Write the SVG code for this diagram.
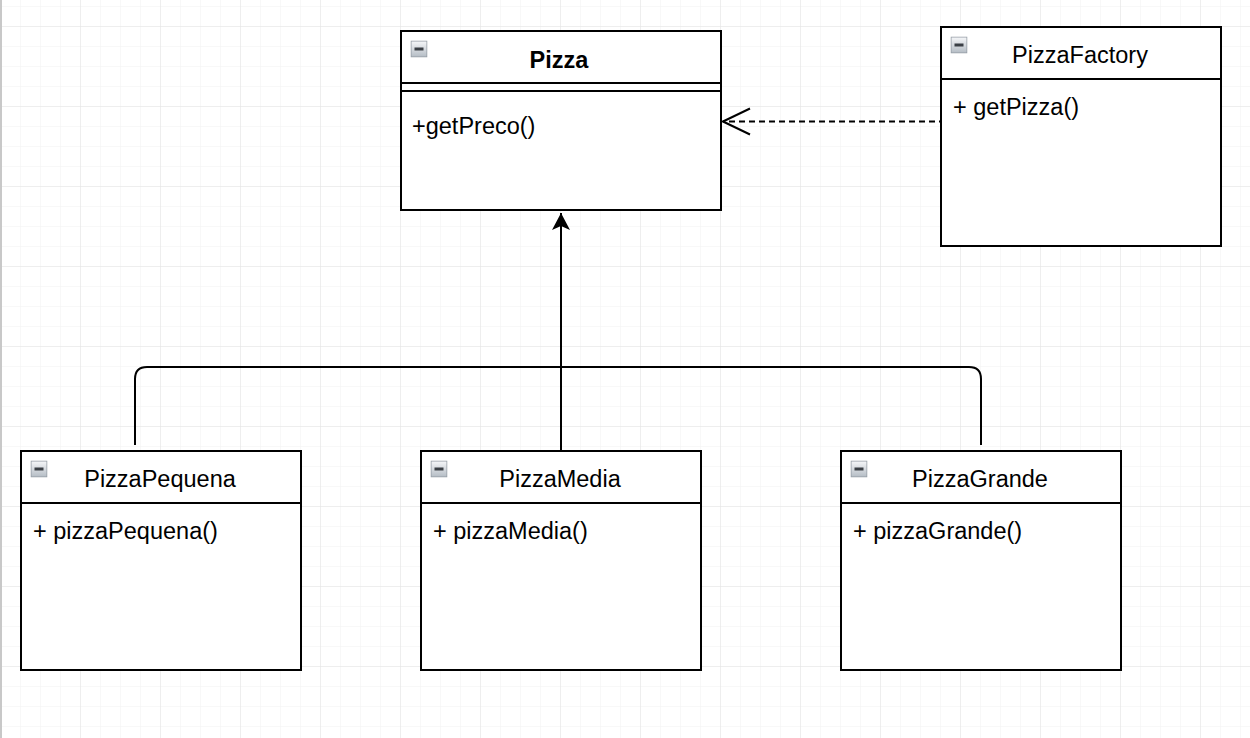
<svg xmlns="http://www.w3.org/2000/svg" width="1250" height="738" viewBox="0 0 1250 738">
  <defs>
    <pattern id="minor" width="20" height="20" patternUnits="userSpaceOnUse" x="0" y="6">
      <path d="M0 0H20M0 0V20" fill="none" stroke="#f1f1f1" stroke-width="1"/>
    </pattern>
    <pattern id="major" width="80" height="80" patternUnits="userSpaceOnUse" x="0" y="26">
      <path d="M0 0H80M0 0V80" fill="none" stroke="#e4e4e4" stroke-width="1"/>
    </pattern>
    <linearGradient id="icon" x1="0" y1="0" x2="0" y2="1">
      <stop offset="0" stop-color="#f6f7f9"/>
      <stop offset="1" stop-color="#b4bcc4"/>
    </linearGradient>
    <symbol id="minus" viewBox="0 0 17 17">
      <rect x="0.5" y="0.5" width="16" height="16" fill="url(#icon)" stroke="#949ca5" stroke-width="1"/>
      <rect x="4" y="7" width="9" height="3" fill="#3a3f45"/>
    </symbol>
    <marker id="filled" markerWidth="20" markerHeight="20" refX="17" refY="9" orient="auto" markerUnits="userSpaceOnUse">
      <path d="M0 0 L17 9 L0 18 L4 9 Z" fill="#000"/>
    </marker>
    <marker id="open" markerWidth="30" markerHeight="30" refX="28" refY="14" orient="auto" markerUnits="userSpaceOnUse">
      <path d="M1 1 L28 14 L1 27" fill="none" stroke="#000" stroke-width="2"/>
    </marker>
  </defs>
  <style>
    .box { fill: #fff; stroke: #000; stroke-width: 2; }
    .sep { stroke: #000; stroke-width: 2; fill: none; }
    .t { font-family: "Liberation Sans", Arial, sans-serif; font-size: 23.5px; fill: #000; }
    .title { text-anchor: middle; }
    .bold { font-weight: bold; }
    .edge { fill: none; stroke: #000; stroke-width: 2; }
  </style>
  <rect width="1250" height="738" fill="#fff"/>
  <rect width="1250" height="738" fill="url(#minor)"/>
  <rect width="1250" height="738" fill="url(#major)"/>
  <rect x="0" y="0" width="2" height="738" fill="#c8c8c8"/>

  <g id="connectors">
    <path class="edge" d="M561 451 V213" marker-end="url(#filled)"/>
    <path class="edge" d="M135 445 V379 Q135 367 147 367 H969 Q981 367 981 379 V445"/>
    <path class="edge" d="M945 121.5 H723" stroke-dasharray="6 4" marker-end="url(#open)"/>
  </g>

  <g id="Pizza">
    <rect class="box" x="401" y="31" width="320" height="179"/>
    <path class="sep" d="M401 83 H721 M401 91 H721"/>
    <use href="#minus" x="410.5" y="40.5" width="17" height="17"/>
    <text class="t title bold" x="559" y="67.5">Pizza</text>
    <text class="t" x="412" y="134">+getPreco()</text>
  </g>

  <g id="PizzaFactory">
    <rect class="box" x="941" y="27" width="280" height="219"/>
    <path class="sep" d="M941 79 H1221"/>
    <use href="#minus" x="950.5" y="36.5" width="17" height="17"/>
    <text class="t title" x="1080" y="63">PizzaFactory</text>
    <text class="t" x="953" y="114.5">+ getPizza()</text>
  </g>

  <g id="PizzaPequena">
    <rect class="box" x="21" y="451" width="280" height="219"/>
    <path class="sep" d="M21 503 H301"/>
    <use href="#minus" x="30.5" y="460.5" width="17" height="17"/>
    <text class="t title" x="160" y="487">PizzaPequena</text>
    <text class="t" x="33" y="538.5">+ pizzaPequena()</text>
  </g>

  <g id="PizzaMedia">
    <rect class="box" x="421" y="451" width="280" height="219"/>
    <path class="sep" d="M421 503 H701"/>
    <use href="#minus" x="430.5" y="460.5" width="17" height="17"/>
    <text class="t title" x="560" y="487">PizzaMedia</text>
    <text class="t" x="433" y="538.5">+ pizzaMedia()</text>
  </g>

  <g id="PizzaGrande">
    <rect class="box" x="841" y="451" width="280" height="219"/>
    <path class="sep" d="M841 503 H1121"/>
    <use href="#minus" x="850.5" y="460.5" width="17" height="17"/>
    <text class="t title" x="980" y="487">PizzaGrande</text>
    <text class="t" x="853" y="538.5">+ pizzaGrande()</text>
  </g>
</svg>
